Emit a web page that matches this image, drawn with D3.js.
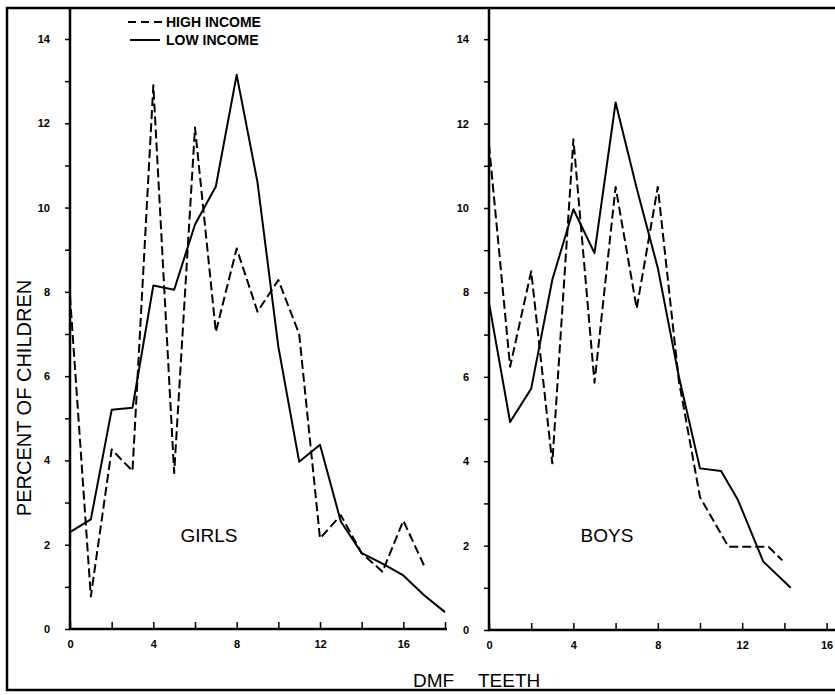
<!DOCTYPE html>
<html>
<head>
<meta charset="utf-8">
<script src="https://cdn.jsdelivr.net/npm/d3@7"></script>
<style>
  body { margin: 0; background: #fff; }
  svg { display: block; font-family: "Liberation Sans", Arial, sans-serif; }
  .tick text { font-weight: bold; font-size: 11px; }
  .axisline { stroke: #000; stroke-width: 2.5; fill: none; }
</style>
</head>
<body>
<div id="chart"></div>
<script>
// DMF teeth counts (x) and percent of children (y)
var girlsLowX  = [0, 1, 2, 3, 4, 5, 6, 7, 8, 9, 10, 11, 12, 13, 14, 15, 16, 17, 18];
var girlsLow   = [2.3, 2.6, 5.2, 5.25, 8.15, 8.05, 9.6, 10.5, 13.15, 10.6, 6.7, 3.97, 4.37, 2.55, 1.8, 1.55, 1.27, 0.8, 0.4];
var girlsHighX = [0, 1, 2, 3, 4, 5, 6, 7, 8, 9, 10, 11, 12, 13, 14, 15, 16, 17];
var girlsHigh  = [7.9, 0.77, 4.26, 3.75, 12.9, 3.7, 11.9, 7.05, 9.03, 7.53, 8.28, 7.0, 2.15, 2.7, 1.8, 1.36, 2.57, 1.5];

var boysLowX  = [0, 1, 2, 3, 4, 5, 6, 7, 8, 9, 10, 11, 11.8, 13, 14.3];
var boysLow   = [7.75, 4.93, 5.72, 8.3, 9.97, 8.93, 12.5, 10.47, 8.58, 6.0, 3.83, 3.77, 3.08, 1.62, 1.0];
var boysHighX = [0, 1, 2, 3, 4, 5, 6, 7, 8, 9, 10, 11.35, 13.25, 13.9];
var boysHigh  = [11.5, 6.24, 8.5, 3.95, 11.63, 5.86, 10.5, 7.62, 10.5, 5.9, 3.15, 1.97, 1.97, 1.65];

var yTicks = [0, 1, 2, 3, 4, 5, 6, 7, 8, 9, 10, 11, 12, 13, 14];
var legendLabels = ["HIGH INCOME", "LOW INCOME"];

var width = 835, height = 695;

var svg = d3.select('#chart').append('svg')
  .attr('width', width)
  .attr('height', height);

// outer frame, right edge runs off the page like the scan
svg.append('path')
  .attr('class', 'axisline')
  .attr('d', 'M' + (width + 5) + ',8 H7 V690 H' + (width + 5));

var panels = [
  { name: 'GIRLS', xr: [70, 445], xd: [0, 18], yr: [629, 39], xEnd: 447, labelX: 209,
    series: [[girlsHighX, girlsHigh, true], [girlsLowX, girlsLow, false]] },
  { name: 'BOYS', xr: [489, 826.6], xd: [0, 16], yr: [630, 39.2], xEnd: width + 5, labelX: 607,
    series: [[boysHighX, boysHigh, true], [boysLowX, boysLow, false]] }
];

panels.forEach(p => {
  var x = d3.scaleLinear().domain(p.xd).range(p.xr);
  var y = d3.scaleLinear().domain([0, 14]).range(p.yr);
  var g = svg.append('g');

  var yAxis = d3.axisLeft(y)
    .tickValues(yTicks)
    .tickSize(5)
    .tickPadding(15)
    .tickFormat(d => d % 2 ? '' : d);
  var ya = g.append('g')
    .attr('transform', 'translate(' + p.xr[0] + ',0)')
    .call(yAxis);
  ya.select('.domain').remove();
  ya.selectAll('.tick line').attr('stroke-width', 1.5);

  var xAxis = d3.axisBottom(x)
    .tickValues(d3.range(p.xd[0], p.xd[1] + 1, 2))
    .tickSizeInner(-7)
    .tickSizeOuter(0)
    .tickPadding(11)
    .tickFormat(d => d % 4 ? '' : d);
  var xa = g.append('g')
    .attr('transform', 'translate(0,' + p.yr[0] + ')')
    .call(xAxis);
  xa.select('.domain').remove();
  xa.selectAll('.tick line').attr('stroke-width', 1.5);

  // axis lines drawn by hand so the y axis runs up to the frame
  g.append('path')
    .attr('class', 'axisline')
    .attr('d', 'M' + p.xr[0] + ',8 V' + p.yr[0] + ' H' + p.xEnd);

  var line = d3.line()
    .x(d => x(d[0]))
    .y(d => y(d[1]));

  p.series.forEach(s => {
    g.append('path')
      .datum(d3.zip(s[0], s[1]))
      .attr('d', line)
      .attr('fill', 'none')
      .attr('stroke', '#000')
      .attr('stroke-width', 2)
      .attr('stroke-linejoin', 'round')
      .attr('stroke-dasharray', s[2] ? '9,4' : null);
  });

  g.append('text')
    .attr('x', p.labelX)
    .attr('y', 542)
    .attr('text-anchor', 'middle')
    .style('font-size', '19px')
    .text(p.name);
});

// legend
var legend = svg.append('g');
legendLabels.forEach((t, i) => {
  var ly = 22 + i * 18;
  legend.append('line')
    .attr('x1', i ? 130 : 128).attr('x2', i ? 160 : 162)
    .attr('y1', ly).attr('y2', ly)
    .attr('stroke', '#000')
    .attr('stroke-width', 2)
    .attr('stroke-dasharray', i ? null : '8,5');
  legend.append('text')
    .attr('x', 166)
    .attr('y', ly + 5)
    .style('font-size', '14px')
    .style('font-weight', 'bold')
    .text(t);
});

// axis titles
svg.append('text')
  .attr('transform', 'translate(31,398) rotate(-90)')
  .attr('text-anchor', 'middle')
  .style('font-size', '20px')
  .text('PERCENT OF CHILDREN');

svg.append('text')
  .attr('x', 413)
  .attr('y', 687)
  .style('font-size', '19px')
  .text('DMF');
svg.append('text')
  .attr('x', 478)
  .attr('y', 687)
  .style('font-size', '19px')
  .text('TEETH');
</script>
</body>
</html>
